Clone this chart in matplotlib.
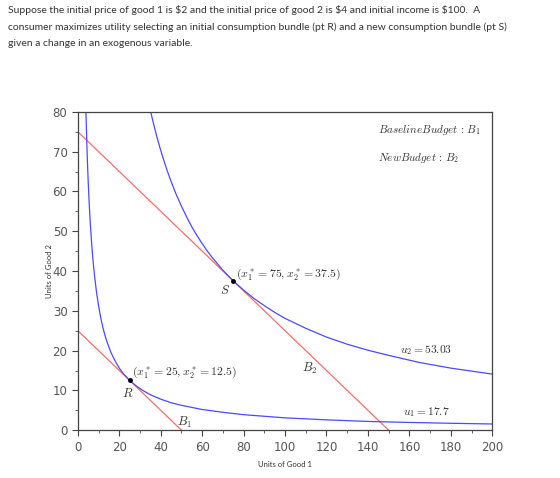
import numpy as np
import matplotlib.pyplot as plt
from matplotlib.ticker import MultipleLocator

plt.rcParams['mathtext.fontset'] = 'cm'

# budget lines (intercepts)
b1_x = [0, 50]
b1_y = [25, 0]
b2_x = [0, 150]
b2_y = [75, 0]

# indifference curves
u1_x = [3.5, 3.7, 3.9, 4.2, 4.5, 4.8, 5, 5.3, 5.6, 6, 6.5, 7, 7.5, 8, 9, 10, 11, 12, 13, 14, 16, 18, 20, 22, 25, 28, 31, 35, 40, 45, 50, 60, 70, 80, 90, 100, 120, 140, 160, 180, 200]
u1_y = [89.3, 84.5, 80.1, 74.4, 69.4, 65.1, 62.5, 59.0, 55.8, 52.1, 48.1, 44.6, 41.7, 39.1, 34.7, 31.3, 28.4, 26.0, 24.0, 22.3, 19.5, 17.4, 15.6, 14.2, 12.5, 11.2, 10.1, 8.9, 7.8, 6.9, 6.25, 5.2, 4.5, 3.9, 3.5, 3.1, 2.6, 2.2, 1.95, 1.74, 1.56]
u2_x = [33, 34, 35.2, 36.5, 38, 39.5, 41, 43, 45, 47.5, 50, 52.5, 55, 57.5, 60, 62.5, 65, 70, 75, 80, 85, 90, 95, 100, 110, 120, 130, 140, 150, 165, 180, 200]
u2_y = [85.2, 82.7, 79.9, 77.1, 74.0, 71.2, 68.6, 65.4, 62.5, 59.2, 56.3, 53.6, 51.1, 48.9, 46.9, 45.0, 43.3, 40.2, 37.5, 35.2, 33.1, 31.3, 29.6, 28.1, 25.6, 23.4, 21.6, 20.1, 18.8, 17.0, 15.6, 14.1]

pts_x = [25, 75]
pts_y = [12.5, 37.5]

fig = plt.figure(figsize=(5.6, 4.78), dpi=100)
fig.text(0.014, 0.99, "Suppose the initial price of good 1 is \\$2 and the initial price of good 2 is \\$4 and initial income is \\$100.  A\n"
         "consumer maximizes utility selecting an initial consumption bundle (pt R) and a new consumption bundle (pt S)\n"
         "given a change in an exogenous variable.",
         family='Lato', fontsize=7.5, color='#333333', va='top', ha='left', linespacing=2.0)

ax = fig.add_axes([0.139, 0.100, 0.740, 0.666])
red = '#ff6b6b'
blue = '#4a4aff'
ax.plot(b1_x, b1_y, color=red, lw=0.9)
ax.plot(b2_x, b2_y, color=red, lw=0.9)
ax.plot(u1_x, u1_y, color=blue, lw=0.9)
ax.plot(u2_x, u2_y, color=blue, lw=0.9)
ax.plot(pts_x, pts_y, 'o', color='black', ms=2.5)

ax.set_xlim(0, 200)
ax.set_ylim(0, 80)
ax.xaxis.set_major_locator(MultipleLocator(20))
ax.xaxis.set_minor_locator(MultipleLocator(10))
ax.yaxis.set_major_locator(MultipleLocator(10))
ax.yaxis.set_minor_locator(MultipleLocator(5))
ax.tick_params(which='both', direction='out', color='#444444', labelcolor='#555555', labelsize=8.5)
ax.tick_params(which='major', length=4)
ax.tick_params(which='minor', length=2)
for s in ax.spines.values():
    s.set_color('#444444')
    s.set_linewidth(0.9)

ax.set_xlabel('Units of Good 1', family='Lato', fontsize=5.5, color='#333333', labelpad=5)
ax.set_ylabel('Units of Good 2', family='Lato', fontsize=5.5, color='#333333', labelpad=0)

tc = '#333333'
ax.text(26, 14, r'$(x_1^*=25, x_2^*=12.5)$', fontsize=8.5, color=tc)
ax.text(24, 8.3, r'$R$', fontsize=9, color=tc, ha='center')
ax.text(76.5, 38.5, r'$(x_1^*=75, x_2^*=37.5)$', fontsize=8.5, color=tc)
ax.text(71, 34.3, r'$S$', fontsize=9, color=tc, ha='center')
ax.text(51.5, 1.2, r'$B_1$', fontsize=9, color=tc, ha='center')
ax.text(112, 14.7, r'$B_2$', fontsize=9, color=tc, ha='center')
ax.text(168, 20.2, r'$u_2 = 53.03$', fontsize=8.3, color=tc, ha='center', va='center')
ax.text(168, 4.6, r'$u_1 = 17.7$', fontsize=8.3, color=tc, ha='center', va='center')
ax.text(145, 75.5, r'$Baseline Budget\,:\,B_1$', fontsize=8, color=tc, va='center')
ax.text(145, 68.4, r'$New Budget\,:\,B_2$', fontsize=8, color=tc, va='center')

fig.savefig('out.png', dpi=100)
